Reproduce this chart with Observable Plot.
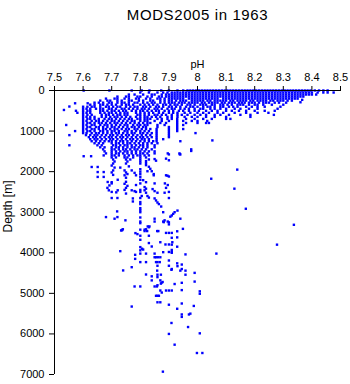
<!DOCTYPE html>
<html><head><meta charset="utf-8">
<script src="https://cdn.jsdelivr.net/npm/d3@7"></script>
<script src="https://cdn.jsdelivr.net/npm/@observablehq/plot@0.6"></script>
<style>html,body{margin:0;padding:0;background:#fff}</style>
</head><body><div id="chart"></div>
<script>
const chartTitle = "MODS2005 in 1963";
const xLabel = "pH";
const yLabel = "Depth [m]";
const phTicks = [7.5, 7.6, 7.7, 7.8, 7.9, 8, 8.1, 8.2, 8.3, 8.4, 8.5];
const depthTicks = [0, 1000, 2000, 3000, 4000, 5000, 6000, 7000];

// rows: [depth (m), [pH values observed at that depth]]
const surfaceRows = [
 [0, [7.602,7.692,7.77,7.805,7.832,7.873,7.9,7.93,7.95,7.965,7.975,7.985,7.995,8.005,8.015,8.025,8.035,8.045,8.055,8.065,8.075,8.085,8.095,8.105,8.115,8.125,8.135,8.145,8.155,8.165,8.175,8.185,8.195,8.205,8.215,8.225,8.235,8.245,8.255,8.265,8.275,8.285,8.295,8.305,8.315,8.325,8.335,8.345,8.355,8.365,8.375,8.385,8.395,8.41,8.425,8.44,8.455]],
 [50, [7.80,7.83,7.86,7.88,7.895,7.91,7.92,7.93,7.94,7.95,7.96,7.97,7.98,7.99,8.00,8.01,8.02,8.03,8.04,8.05,8.06,8.07,8.08,8.09,8.10,8.11,8.12,8.13,8.14,8.15,8.16,8.17,8.18,8.19,8.20,8.21,8.22,8.23,8.24,8.25,8.26,8.27,8.28,8.29,8.30,8.31,8.32,8.33,8.34,8.35,8.36,8.37,8.38,8.39,8.40,8.42,8.44,8.455,8.476]],
 [100, [7.76,7.78,7.81,7.84,7.85,7.875,7.89,7.90,7.91,7.92,7.93,7.94,7.95,7.96,7.97,7.98,7.99,8.00,8.01,8.02,8.03,8.04,8.05,8.06,8.07,8.08,8.09,8.10,8.11,8.12,8.13,8.14,8.15,8.16,8.17,8.18,8.19,8.20,8.21,8.22,8.23,8.24,8.25,8.26,8.27,8.28,8.29,8.30,8.31,8.32,8.33,8.34,8.35,8.36,8.37,8.38,8.39,8.40,8.415]],
 [150, [7.72,7.75,7.76,7.79,7.80,7.825,7.84,7.865,7.875,7.89,7.90,7.91,7.92,7.93,7.94,7.95,7.96,7.97,7.98,7.99,8.00,8.01,8.02,8.03,8.04,8.05,8.06,8.07,8.08,8.09,8.10,8.11,8.12,8.13,8.14,8.15,8.16,8.17,8.18,8.19,8.20,8.21,8.22,8.23,8.24,8.25,8.26,8.27,8.28,8.29,8.30,8.31,8.32,8.33,8.34,8.35,8.36,8.37]],
 [200, [7.68,7.71,7.72,7.745,7.76,7.785,7.795,7.82,7.835,7.86,7.87,7.885,7.90,7.91,7.92,7.93,7.94,7.95,7.97,7.98,7.99,8.00,8.01,8.02,8.03,8.04,8.05,8.06,8.07,8.09,8.10,8.11,8.12,8.13,8.14,8.15,8.16,8.17,8.18,8.19,8.20,8.21,8.22,8.23,8.24,8.25,8.26,8.27,8.28,8.29,8.30,8.31,8.32,8.33,8.34,8.35]],
 [230, [8.366]],
 [250, [7.66,7.685,7.695,7.72,7.735,7.76,7.77,7.795,7.81,7.835,7.845,7.87,7.885,7.90,7.91,7.925,7.94,7.95,7.96,7.98,7.99,8.00,8.01,8.02,8.035,8.045,8.06,8.07,8.08,8.09,8.10,8.115,8.125,8.14,8.15,8.16,8.17,8.185,8.195,8.21,8.22,8.23,8.24,8.255,8.265,8.28,8.29,8.30,8.315,8.33]],
 [290, [8.36]],
 [300, [7.64,7.655,7.67,7.69,7.70,7.72,7.735,7.745,7.76,7.78,7.79,7.81,7.825,7.84,7.85,7.87,7.885,7.90,7.91,7.92,7.935,7.945,7.955,7.97,7.98,7.99,8.00,8.015,8.025,8.04,8.05,8.06,8.07,8.085,8.095,8.11,8.12,8.13,8.145,8.155,8.165,8.18,8.19,8.20,8.215,8.23,8.24,8.25,8.27,8.285,8.31]],
 [315, [7.572,7.616]]
];

const upperRows = [
 [350, [7.625,7.64,7.66,7.67,7.685,7.70,7.715,7.735,7.75,7.76,7.775,7.80,7.815,7.83,7.845,7.86,7.88,7.89,7.905,7.92,7.93,7.945,7.965,7.975,7.99,8.01,8.02,8.03,8.05,8.06,8.08,8.09,8.105,8.12,8.14,8.15,8.16,8.18,8.20,8.21,8.23,8.26,8.30]],
 [395, [7.552]],
 [400, [7.60,7.615,7.63,7.64,7.66,7.68,7.69,7.705,7.72,7.73,7.75,7.765,7.78,7.79,7.81,7.82,7.835,7.855,7.865,7.88,7.90,7.91,7.925,7.94,7.96,7.975,7.985,8.00,8.02,8.035,8.045,8.06,8.08,8.09,8.11,8.125,8.14,8.17,8.19,8.21,8.235,8.29]],
 [450, [7.60,7.612,7.625,7.645,7.66,7.67,7.69,7.70,7.715,7.735,7.745,7.76,7.775,7.79,7.805,7.815,7.83,7.85,7.86,7.875,7.895,7.91,7.92,7.94,7.955,7.97,7.99,8.01,8.02,8.045,8.06,8.08,8.10,8.13,8.15,8.18,8.21,8.28]],
 [480, [7.533]],
 [500, [7.575,7.60,7.615,7.625,7.66,7.67,7.685,7.70,7.71,7.725,7.74,7.75,7.77,7.785,7.80,7.81,7.825,7.84,7.855,7.865,7.885,7.90,7.915,7.935,7.95,7.97,7.99,8.005,8.03,8.05,8.07,8.10,8.12,8.145,8.17,8.20,8.235,8.27]],
 [550, [7.58,7.60,7.612,7.625,7.66,7.675,7.69,7.70,7.715,7.73,7.745,7.755,7.785,7.80,7.815,7.83,7.845,7.865,7.88,7.90,7.915,7.93,7.955,7.975,8.00,8.02,8.04,8.07,8.09,8.13,8.17,8.21,8.248]],
 [600, [7.60,7.615,7.63,7.665,7.68,7.69,7.705,7.72,7.73,7.745,7.755,7.79,7.80,7.815,7.83,7.85,7.86,7.875,7.89,7.91,7.93,7.945,7.965,7.99,8.01,8.03,8.06,8.08,8.11,8.15,8.185,8.267]],
 [650, [7.60,7.612,7.625,7.64,7.665,7.68,7.695,7.71,7.72,7.735,7.75,7.765,7.785,7.80,7.815,7.825,7.84,7.855,7.87,7.895,7.91,7.93,7.955,7.98,8.00,8.03,8.06,8.10,8.185]],
 [700, [7.60,7.615,7.625,7.64,7.655,7.675,7.69,7.70,7.715,7.73,7.745,7.76,7.77,7.79,7.80,7.815,7.825,7.835,7.86,7.875,7.895,7.91,7.929,7.96,7.99,8.02,8.05,8.10,8.115]],
 [750, [7.60,7.612,7.63,7.645,7.655,7.67,7.685,7.70,7.71,7.725,7.74,7.755,7.77,7.78,7.80,7.815,7.825,7.85,7.875,7.90,7.929,7.95,7.98,8.00,8.034]],
 [800, [7.60,7.615,7.625,7.64,7.655,7.665,7.68,7.695,7.71,7.72,7.735,7.75,7.765,7.78,7.795,7.81,7.825,7.835,7.87,7.89,7.929,7.96,8.00,8.03,8.04]],
 [850, [7.541,7.60,7.612,7.63,7.64,7.66,7.675,7.685,7.70,7.715,7.73,7.745,7.755,7.775,7.79,7.80,7.815,7.825,7.86,7.885,7.929,7.95]],
 [900, [7.60,7.615,7.625,7.645,7.655,7.67,7.685,7.70,7.71,7.725,7.74,7.755,7.77,7.78,7.795,7.81,7.82,7.86,7.90,7.929]],
 [950, [7.60,7.612,7.63,7.64,7.655,7.67,7.68,7.695,7.71,7.72,7.735,7.75,7.76,7.78,7.79,7.805,7.82,7.835,7.857,7.90,7.929,7.95]],
 [1000, [7.572,7.60,7.615,7.625,7.64,7.66,7.67,7.685,7.70,7.71,7.725,7.745,7.755,7.77,7.785,7.80,7.815,7.83,7.857,7.90,7.929]],
 [1050, [7.60,7.612,7.63,7.645,7.655,7.67,7.685,7.70,7.715,7.725,7.74,7.755,7.77,7.78,7.80,7.81,7.825,7.84,7.857,7.90,7.993]],
 [1100, [7.552,7.61,7.625,7.64,7.65,7.665,7.68,7.695,7.705,7.72,7.735,7.75,7.76,7.775,7.79,7.805,7.82,7.835,7.857,7.90]],
 [1150, [7.62,7.635,7.645,7.66,7.675,7.69,7.70,7.715,7.73,7.74,7.755,7.77,7.785,7.80,7.81,7.825,7.84,7.857,7.90]],
 [1200, [7.625,7.64,7.65,7.665,7.68,7.695,7.705,7.72,7.735,7.75,7.765,7.775,7.79,7.805,7.815,7.83,7.857,7.88]],
 [1230, [8.052]],
 [1250, [7.63,7.645,7.66,7.675,7.69,7.70,7.715,7.73,7.74,7.755,7.77,7.785,7.80,7.815,7.83,7.845,7.857,7.94]],
 [1300, [7.64,7.655,7.67,7.70,7.715,7.725,7.74,7.755,7.765,7.78,7.795,7.81,7.825,7.84,7.86]],
 [1350, [7.552,7.65,7.665,7.705,7.715,7.73,7.745,7.755,7.77,7.785,7.80,7.81,7.825,7.85]],
 [1400, [7.66,7.675,7.70,7.715,7.725,7.74,7.755,7.77,7.78,7.795,7.81,7.825,7.85]],
 [1450, [7.67,7.70,7.71,7.725,7.74,7.75,7.765,7.78,7.79,7.805,7.82,7.84,7.978]],
 [1500, [7.675,7.70,7.715,7.73,7.745,7.755,7.77,7.785,7.80,7.815,7.83,7.85]],
 [1550, [7.68,7.70,7.715,7.725,7.74,7.755,7.77,7.785,7.80,7.81,7.825,7.85,7.896,7.937]],
 [1575, [7.90,7.94]],
 [1600, [7.672,7.70,7.71,7.725,7.745,7.76,7.775,7.79,7.80,7.815,7.83]],
 [1620, [7.602,7.628]],
 [1650, [7.70,7.715,7.745,7.755,7.775,7.80,7.82]],
 [1700, [7.705,7.75,7.765,7.80,7.83]]
];

// scattered deep observations: [pH, depth (m)]
const deepPoints = [
 [7.71,1750],[7.705,1800],[7.70,1850],[7.71,1900],[7.705,1970],[7.70,2020],[7.705,2080],[7.70,2260],[7.70,2290],[7.692,2340],
 [7.755,1750],[7.75,1800],[7.745,1970],[7.75,2020],[7.755,2060],[7.745,2090],[7.75,2150],[7.75,2250],[7.745,2300],[7.755,2350],[7.75,2400],[7.745,2450],[7.75,2540],
 [7.80,1750],[7.80,1800],[7.80,1940],[7.80,2000],[7.80,2060],[7.80,2130],[7.80,2200],[7.80,2290],[7.80,2450],[7.80,2500],[7.805,2600],[7.80,2650],[7.80,2750],[7.80,2800],[7.80,2900],[7.80,2950],[7.80,3000],[7.80,3130],[7.80,3230],[7.80,3270],[7.80,3430],
 [7.651,1885],[7.63,1885],[7.651,2010],[7.672,2010],[7.651,2130],[7.672,2130],[7.686,2255],[7.721,2200],[7.721,2460],[7.70,2500],[7.716,2510],[7.70,2650],[7.72,2650],[7.719,2980],[7.68,3120],[7.72,3120],[7.71,3160],[7.748,3200],[7.739,3420],[7.736,3440],[7.733,3450],
 [7.685,2400],[7.69,2460],[7.76,1870],[7.73,1900],[7.77,1970],[7.78,2030],[7.785,2090],[7.77,2460],[7.78,2480],[7.785,2500],[7.774,2660],[7.774,2735],[7.785,2330],
 [7.82,1740],[7.82,1790],[7.82,1840],[7.83,1880],[7.835,1930],[7.825,1990],[7.84,1990],[7.85,1690],[7.855,1730],[7.89,1680],[7.90,1720],[7.847,2060],[7.847,2090],[7.81,2210],[7.82,2260],[7.85,2290],[7.815,2380],[7.82,2420],[7.815,2460],[7.82,2520],[7.825,2600],[7.83,2640],[7.843,2430],[7.85,2480],[7.86,2520],[7.85,2660],[7.855,2710],[7.86,2760],[7.865,2800],[7.873,2860],[7.88,3000],[7.885,2520],[7.90,2500],[7.90,2650],[7.89,2400],[7.89,2090],[7.895,2100],[7.90,2120],[7.886,2290],[7.896,2330],
 [7.938,1570],[7.978,1490],[8.048,2175],[8.139,1950],[8.129,2420],[8.169,2915],[8.337,3310],[8.278,3800],
 [7.93,2960],[7.92,3000],[7.915,3040],[7.91,3080],[7.905,3110],[7.885,3200],[7.88,3230],[7.896,3230],[7.94,3160],[7.85,3160],[7.85,3230],[7.832,3350],[7.826,3350],[7.82,3420],[7.815,3430],
 [7.736,3440],[7.783,3515],[7.79,3540],[7.80,3580],[7.80,3680],[7.815,3465],[7.824,3465],[7.83,3370],[7.83,3580],[7.83,3760],[7.80,3860],[7.806,3900],[7.80,3940],[7.80,4020],[7.81,3920],[7.84,3845],[7.859,3465],[7.863,3465],[7.87,3740],[7.888,3795],[7.90,3795],[7.882,3245],[7.90,3250],[7.90,3300],[7.89,3510],[7.90,3510],[7.91,3510],[7.929,3470],[7.929,3620],[7.912,3740],[7.929,3850],[7.949,3410],[7.90,3980],[7.91,3980],[7.88,3985],[7.73,3960],
 [7.782,4050],[7.782,4150],[7.80,4230],[7.82,4230],[7.74,4435],[7.77,4355],[7.82,4020],[7.85,4020],[7.85,4110],[7.855,4110],[7.862,4110],[7.87,4110],[7.855,4230],[7.86,4230],[7.868,4230],[7.86,4320],[7.90,4190],[7.90,4320],[7.909,4420],[7.94,4440],[7.929,4260],[7.945,4290],[7.945,4400],[7.958,4040],[8.066,4020],[7.958,4440],[7.958,4540],[7.99,4495],[7.99,4710],
 [7.859,4440],[7.86,4540],[7.872,4540],[7.82,4535],[7.84,4580],[7.84,4680],[7.86,4600],[7.87,4680],[7.878,4720],[7.872,4760],[7.874,4740],[7.86,4800],[7.858,4830],[7.85,4830],[7.78,4830],[7.80,4830],[7.92,4770],[7.945,4740],[7.945,4920],[7.87,4930],[7.89,4930],[7.90,4930],[7.91,4930],[7.875,4980],[8.008,4950],[8.008,5010],
 [7.855,5060],[7.86,5060],[7.865,5060],[7.86,5220],[7.87,5220],[7.90,5280],[7.945,5250],[7.987,5310],[7.77,5325],[7.929,5380],[7.97,5520],[7.975,5500],[7.945,5520],[7.945,5580],[7.909,5730],[7.967,5830],[7.90,6000],[8.008,5985],[7.92,6265],[7.998,6470],[8.017,6470],[7.879,6930],
 [7.91,3630],[7.91,3800],[7.91,3930],[7.91,4000],[7.93,4330],[7.91,4400]
];

const points = [];
for (const [depth, phs] of [...surfaceRows, ...upperRows]) for (const ph of phs) points.push({ph, depth});
for (const [ph, depth] of deepPoints) points.push({ph, depth});

const chart = Plot.plot({
  width: 350,
  height: 384,
  marginTop: 90,
  marginLeft: 54,
  marginRight: 10,
  marginBottom: 10,
  style: {fontFamily: "'Liberation Sans', Arial, sans-serif", fontSize: "11px", color: "black", background: "white"},
  x: {domain: [7.5, 8.5]},
  y: {domain: [0, 7000], reverse: true},
  marks: [
    Plot.dot(points, {x: "ph", y: "depth", symbol: "square", r: 1.35, fill: "#0000ff", stroke: "none"}),
    Plot.ruleY([0], {stroke: "black"}),
    Plot.ruleX([7.5], {stroke: "black"}),
    Plot.axisX({anchor: "top", ticks: phTicks, tickFormat: d => String(d), tickSize: 5, tickPadding: 5, label: null}),
    Plot.axisY({anchor: "left", ticks: depthTicks, tickFormat: d => String(d), tickSize: 5, tickPadding: 5, label: null}),
    Plot.text([xLabel], {frameAnchor: "top", dy: -30, fontSize: 11}),
    Plot.text([yLabel], {frameAnchor: "left", rotate: -90, dx: -46, fontSize: 12}),
    Plot.text([chartTitle], {frameAnchor: "top", dy: -81, fontSize: 15})
  ]
});
document.getElementById("chart").appendChild(chart);
chart.querySelectorAll("text").forEach(t => { if (t.textContent === chartTitle) t.style.letterSpacing = "0.6px"; });
</script>
</body></html>
